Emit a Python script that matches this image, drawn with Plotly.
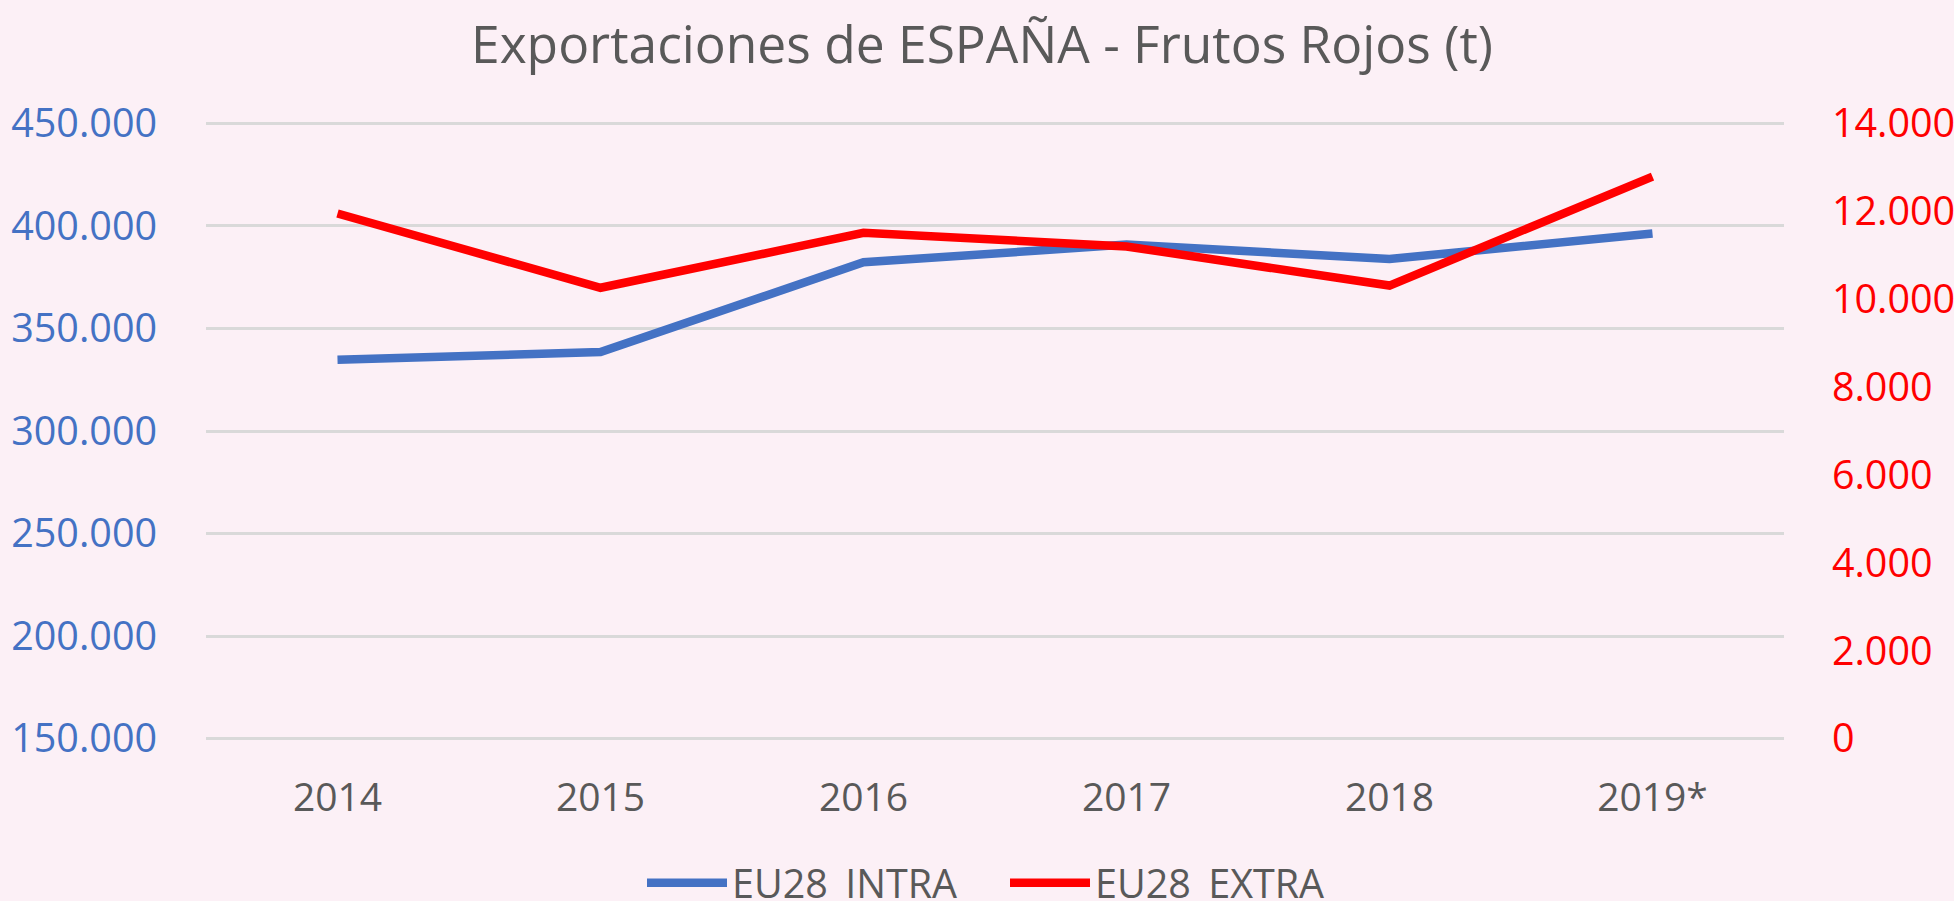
import plotly.graph_objects as go

years = ["2014", "2015", "2016", "2017", "2018", "2019*"]
eu28_intra = [334800, 338500, 382300, 390900, 383900, 396300]
eu28_extra = [11950, 10260, 11510, 11200, 10310, 12790]

left_ticks = [150000, 200000, 250000, 300000, 350000, 400000, 450000]
right_ticks = [0, 2000, 4000, 6000, 8000, 10000, 12000, 14000]

BG = "#FCF0F6"
GREY = "#595959"
BLUE = "#4472C4"
RED = "#FF0000"
FONT = "Open Sans"

# small padding so the end gridlines (150.000 / 450.000) are drawn
pad_left = 700
pad_right = pad_left * 14000 / 300000

fig = go.Figure()
fig.add_trace(go.Scatter(
    x=years, y=eu28_intra, name="EU28_INTRA", mode="lines",
    line=dict(color=BLUE, width=8.5), yaxis="y",
))
fig.add_trace(go.Scatter(
    x=years, y=eu28_extra, name="EU28_EXTRA", mode="lines",
    line=dict(color=RED, width=8.5), yaxis="y2",
))

fig.update_layout(
    width=1954, height=901,
    paper_bgcolor=BG, plot_bgcolor=BG,
    separators=",.",
    margin=dict(l=206, r=170, t=122, b=161, autoexpand=False),
    font=dict(family=FONT, color=GREY),
    title=dict(
        text="Exportaciones de ESPAÑA - Frutos Rojos (t)",
        font=dict(family=FONT, size=51.5, color=GREY),
        x=982 / 1954, xanchor="center", xref="container",
        y=1 - 45 / 901, yanchor="middle", yref="container",
    ),
    xaxis=dict(
        type="category", range=[-0.5, 5.5],
        showgrid=False, showline=False, zeroline=False,
        ticks="outside", ticklen=23, tickcolor="rgba(0,0,0,0)",
        tickfont=dict(family=FONT, size=39, color=GREY),
    ),
    yaxis=dict(
        range=[150000 - pad_left, 450000 + pad_left], tickvals=left_ticks, tickformat=",d",
        showgrid=True, gridcolor="#D9D9D9", gridwidth=3,
        showline=False, zeroline=False,
        ticks="outside", ticklen=40, tickcolor="rgba(0,0,0,0)",
        tickfont=dict(family=FONT, size=39.5, color=BLUE),
    ),
    yaxis2=dict(
        range=[0 - pad_right, 14000 + pad_right], tickvals=right_ticks, tickformat=",d",
        overlaying="y", side="right",
        showgrid=False, showline=False, zeroline=False,
        ticks="outside", ticklen=39, tickcolor="rgba(0,0,0,0)",
        tickfont=dict(family=FONT, size=39.5, color=RED),
    ),
    showlegend=True,
    legend=dict(
        orientation="h", x=(1005 - 206) / 1578, xanchor="center",
        y=(739 - 881.7) / 616, yanchor="middle",
        font=dict(family=FONT, size=39.5, color=GREY),
        itemwidth=80, entrywidth=268, bgcolor="rgba(0,0,0,0)",
    ),
)

fig.write_html(
    "out.html",
    config={"displayModeBar": False},
    post_script="document.body.style.margin='0';document.body.style.overflow='hidden';",
)
